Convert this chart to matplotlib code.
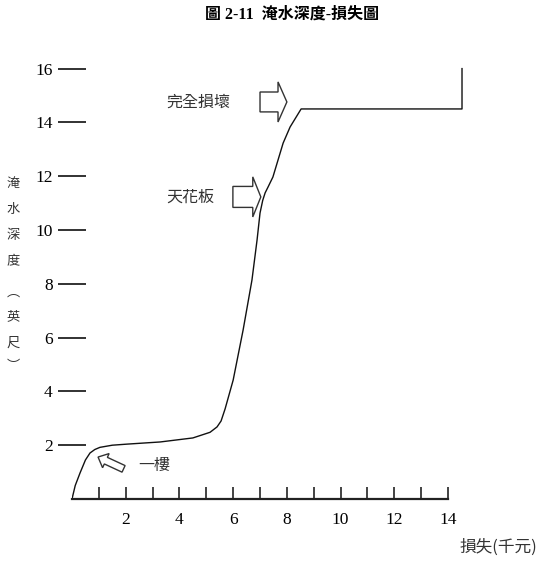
import matplotlib
matplotlib.use("Agg")
import matplotlib.pyplot as plt
from matplotlib.patches import FancyArrow

# ---- data ----
loss_k = [0, 0.12, 0.30, 0.50, 0.67, 0.85, 1.04, 1.5, 2.05, 3.28, 4.5, 5.14, 5.4,
          5.55, 5.7, 6.0, 6.37, 6.70, 6.89, 7.0, 7.1, 7.19, 7.3, 7.48, 7.86, 8.12,
          8.53, 14.52, 14.52]
depth_ft = [0, 0.5, 0.97, 1.45, 1.71, 1.84, 1.92, 2.0, 2.04, 2.12, 2.27, 2.48, 2.68,
            2.9, 3.35, 4.42, 6.28, 8.14, 9.63, 10.63, 11.1, 11.38, 11.6, 11.97, 13.23,
            13.83, 14.5, 14.5, 16.0]
x_major = [2, 4, 6, 8, 10, 12, 14]
x_minor = [1, 3, 5, 7, 9, 11, 13]
y_ticks = [2, 4, 6, 8, 10, 12, 14, 16]
title = "圖 2-11  淹水深度-損失圖"
ylabel_chars = ["淹", "水", "深", "度", "︵", "英", "尺", "︶"]
xlabel = "損失(千元)"
annotations = ["完全損壞", "天花板", "一樓"]

W, H = 540, 570
fig = plt.figure(figsize=(W / 100, H / 100), dpi=100)
ax = fig.add_axes([72 / W, 71 / H, 15 * 26.86 / W, 16.5 * 26.9 / H])
ax.set_xlim(0, 15)
ax.set_ylim(0, 16.5)

serif = ["Liberation Serif", "DejaVu Serif"]
cjk = ["Noto Sans CJK TC", "DejaVu Sans"]

ax.plot(loss_k, depth_ft, color="#111111", lw=1.0, solid_joinstyle="round")

for s in ["top", "right", "left"]:
    ax.spines[s].set_visible(False)
ax.spines["bottom"].set_bounds(0, 14)
ax.spines["bottom"].set_linewidth(1.6)
ax.spines["bottom"].set_color("#222222")

ax.set_xticks(x_major)
ax.set_xticks(x_minor, minor=True)
ax.set_xticklabels([str(v) for v in x_major], fontfamily=serif, fontsize=12.5)
ax.tick_params(axis="x", which="both", direction="in", length=9, width=1.2,
               color="#222222", pad=9)
ax.set_yticks(y_ticks)
ax.set_yticklabels([str(v) for v in y_ticks], fontfamily=serif, fontsize=12.5)
ax.tick_params(axis="y", direction="inout", length=20, width=1.3,
               color="#222222", pad=4)

arrow_kw = dict(facecolor="white", edgecolor="#333333", lw=1.0,
                length_includes_head=True, clip_on=False)
ax.add_patch(FancyArrow(7.0, 14.76, 1.0, 0, width=0.74, head_width=1.49,
                        head_length=0.33, **arrow_kw))
ax.add_patch(FancyArrow(5.99, 11.23, 1.04, 0, width=0.78, head_width=1.49,
                        head_length=0.30, **arrow_kw))
ax.add_patch(FancyArrow(1.92, 1.12, -0.95, 0.44, width=0.27, head_width=0.58,
                        head_length=0.32, **arrow_kw))

ann_kw = dict(fontfamily=cjk, fontsize=11.5, va="center", ha="left",
              color="#333333", fontweight="light")
ax.text(3.5, 14.76, annotations[0], **ann_kw)
ax.text(3.5, 11.23, annotations[1], **ann_kw)
ax.text(2.45, 1.26, annotations[2], **ann_kw)

fig.text(292 / W, 1 - 15 / H, title, fontfamily=["Liberation Serif", "Noto Sans CJK TC"],
         fontweight="bold", fontsize=11.5, ha="center", va="center")

ys = [183, 210, 236, 262, 292, 317, 343, 367]
for ch, yp in zip(ylabel_chars, ys):
    fig.text(13 / W, 1 - yp / H, ch, fontfamily=cjk, fontsize=9.5,
             ha="center", va="center", color="#333333", fontweight="light")

fig.text(460 / W, 1 - 547 / H, xlabel, fontfamily=cjk, fontsize=12,
         ha="left", va="center", color="#333333", fontweight="light")

fig.savefig("out.png", dpi=100)
